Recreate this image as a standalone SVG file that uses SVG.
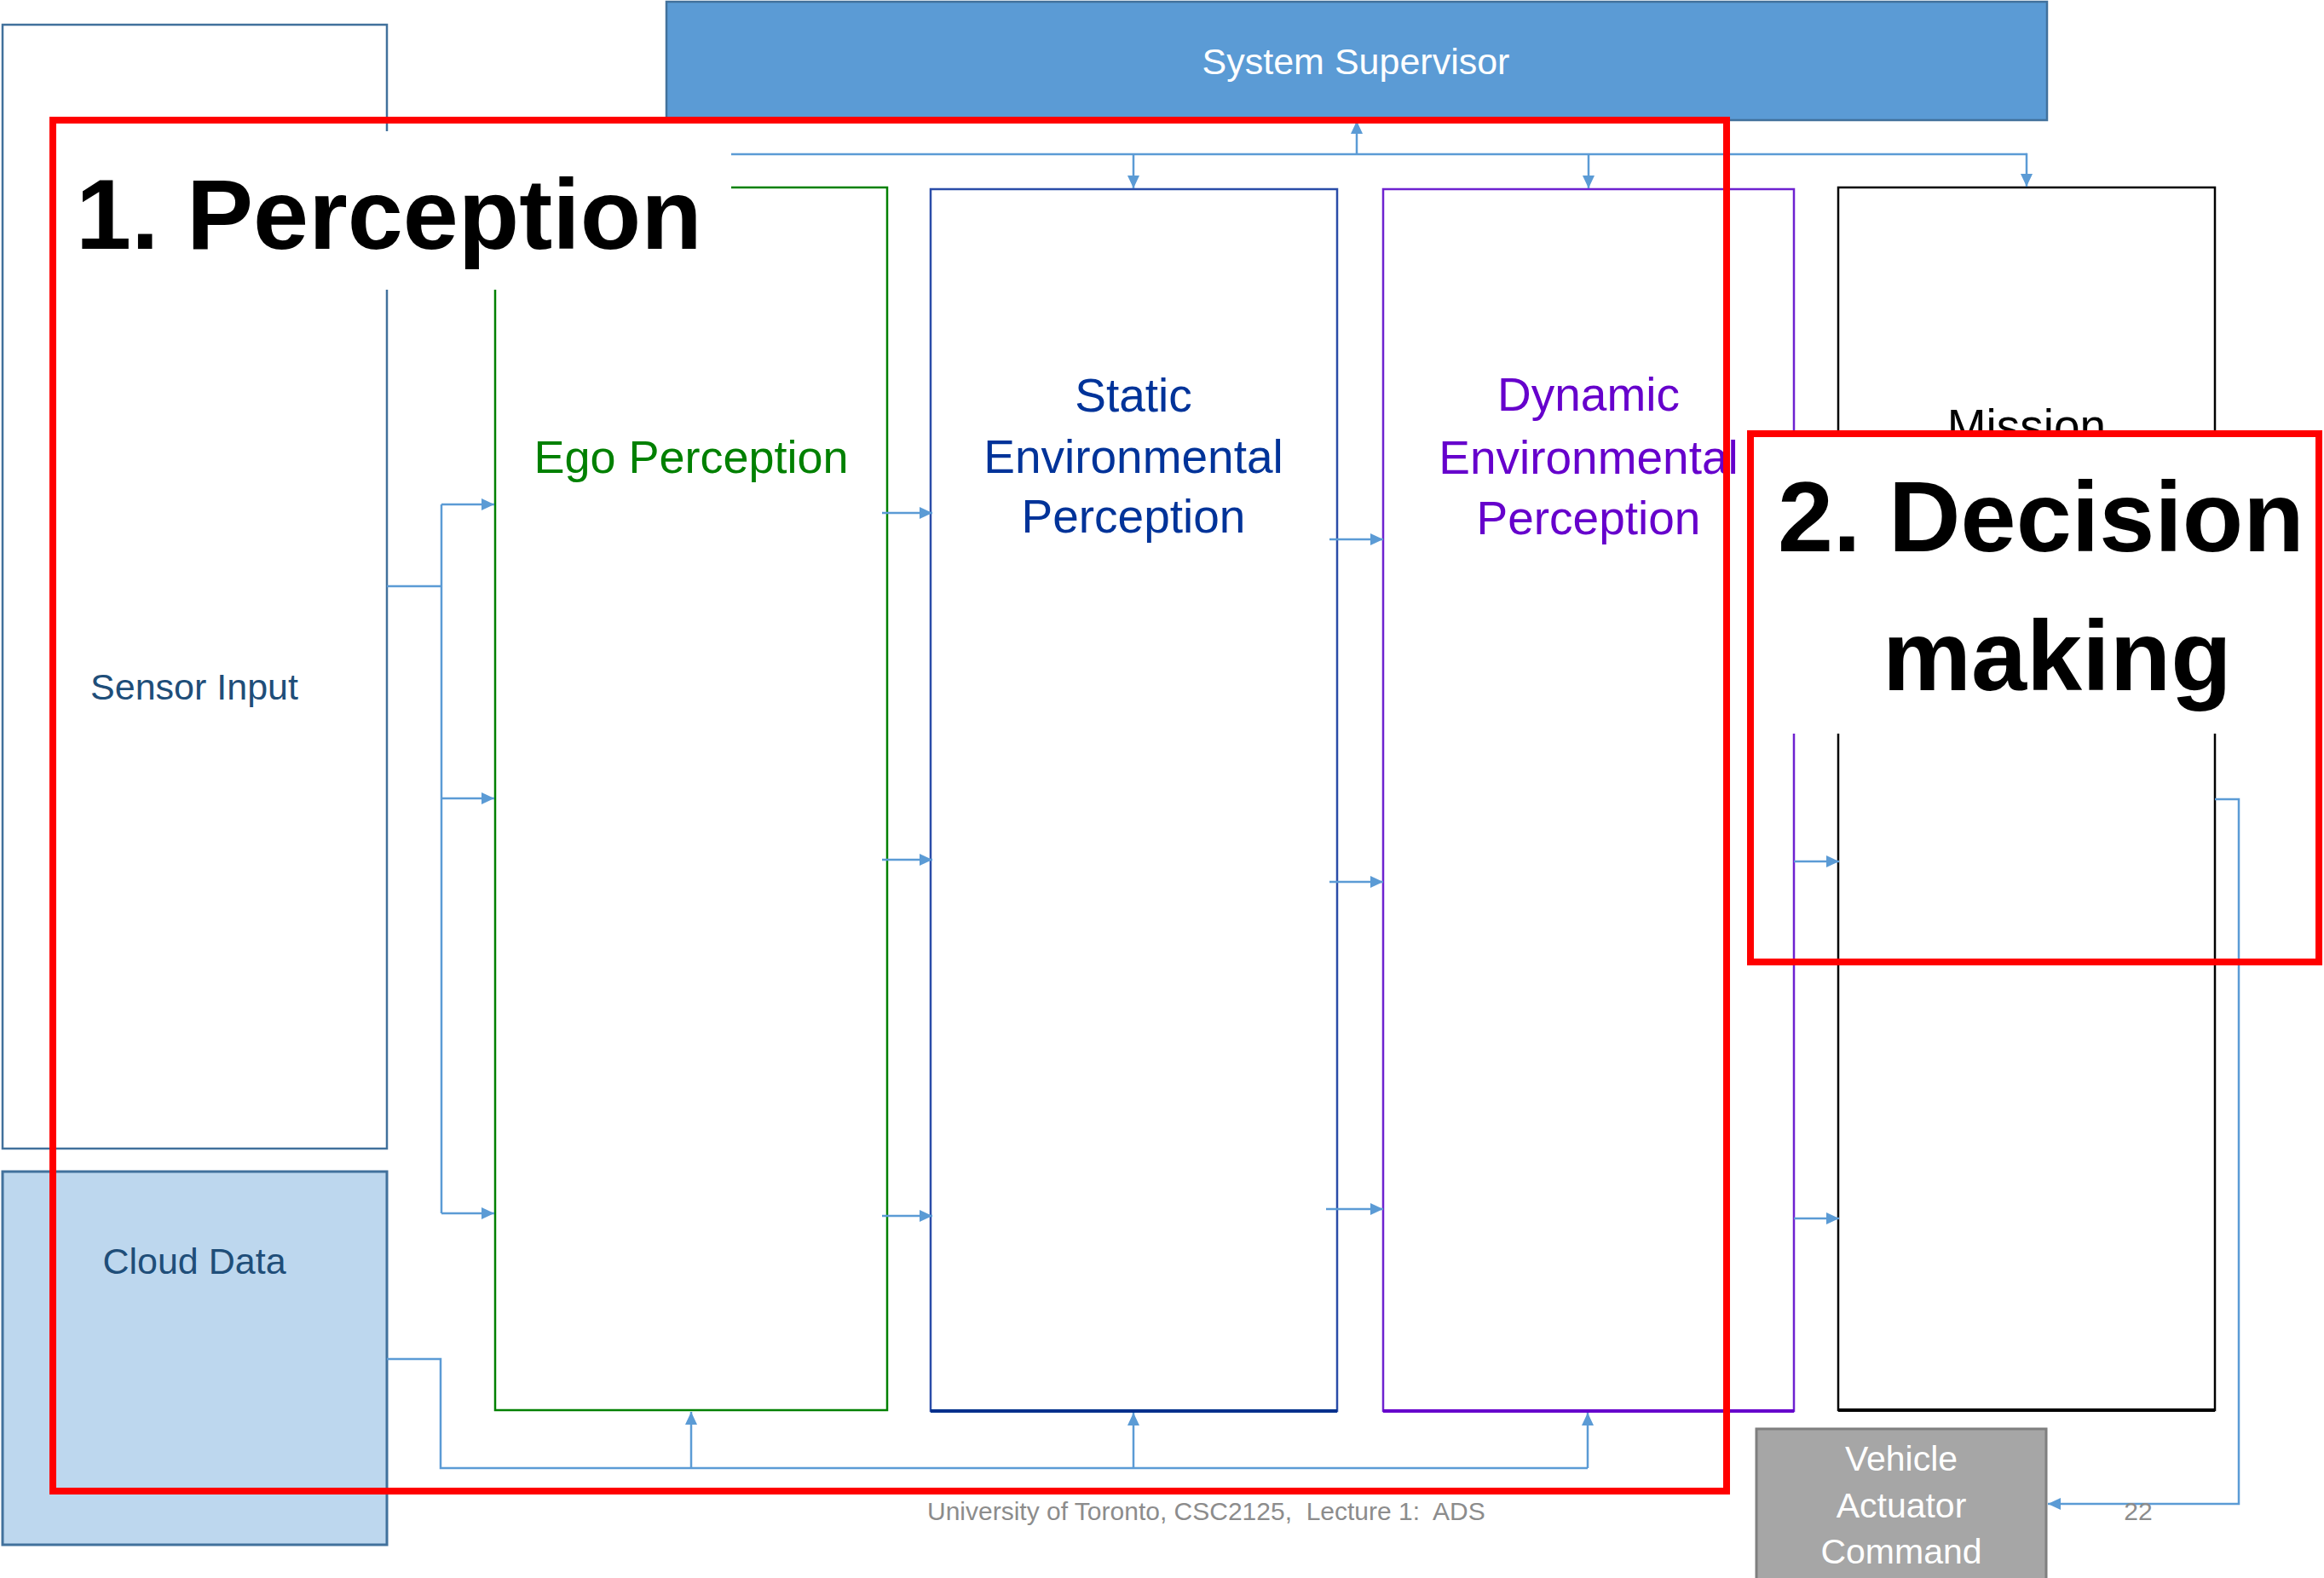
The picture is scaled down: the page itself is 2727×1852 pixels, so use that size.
<svg xmlns="http://www.w3.org/2000/svg" width="2727" height="1852" viewBox="0 0 2727 1852">
<style>
.lbl{font-family:"Liberation Sans",Arial,sans-serif;}
.big{font-family:"Liberation Sans",Arial,sans-serif;font-weight:bold;font-size:117px;fill:#000;}
.con{fill:none;stroke:#5B9BD5;stroke-width:2.5;}
.red{fill:none;stroke:#FF0000;stroke-width:8;}
</style>
<defs>
<marker id="ah" viewBox="0 0 15 14" refX="15" refY="7" markerWidth="15" markerHeight="14" markerUnits="userSpaceOnUse" orient="auto">
<path d="M0,0 L15,7 L0,14 z" fill="#5B9BD5"/>
</marker>
</defs>
<rect width="2727" height="1852" fill="#fff"/>

<g id="sensor-input">
<rect x="3" y="29" width="451" height="1319" fill="#fff" stroke="#41719C" stroke-width="2.5"/>
<text class="lbl" x="228" y="821" font-size="43" fill="#1F4E79" text-anchor="middle">Sensor Input</text>
</g>
<g id="cloud-data">
<rect x="3" y="1375" width="451" height="438" fill="#BDD7EE" stroke="#41719C" stroke-width="3"/>
<text class="lbl" x="228" y="1495" font-size="43" fill="#1F4E79" text-anchor="middle">Cloud Data</text>
</g>
<g id="system-supervisor">
<rect x="782" y="2" width="1620" height="139" fill="#5B9BD5" stroke="#41719C" stroke-width="2.5"/>
<text class="lbl" x="1591" y="87" font-size="43" fill="#fff" text-anchor="middle">System Supervisor</text>
</g>
<g id="ego-perception">
<rect x="581" y="220" width="460" height="1435" fill="#fff" stroke="#008000" stroke-width="2.5"/>
<text class="lbl" x="811" y="555" font-size="54" fill="#008000" text-anchor="middle">Ego Perception</text>
</g>
<g id="static-perception">
<rect x="1092" y="222" width="477" height="1434" fill="#fff" stroke="#2A4CA8" stroke-width="2.5"/>
<line x1="1092" y1="1656" x2="1569" y2="1656" stroke="#00308C" stroke-width="4"/>
<text class="lbl" font-size="55" fill="#003399" text-anchor="middle"><tspan x="1330" y="483">Static</tspan><tspan x="1330" y="555">Environmental</tspan><tspan x="1330" y="625">Perception</tspan></text>
</g>
<g id="dynamic-perception">
<rect x="1623" y="222" width="482" height="1434" fill="#fff" stroke="#6E22D0" stroke-width="2.5"/>
<line x1="1623" y1="1656" x2="2105" y2="1656" stroke="#6600CC" stroke-width="4"/>
<text class="lbl" font-size="55" fill="#6600CC" text-anchor="middle"><tspan x="1864" y="482">Dynamic</tspan><tspan x="1864" y="556">Environmental</tspan><tspan x="1864" y="627">Perception</tspan></text>
</g>
<g id="mission">
<rect x="2157" y="220" width="442" height="1435" fill="#fff" stroke="#000" stroke-width="2.5"/>
<line x1="2157" y1="1655" x2="2599" y2="1655" stroke="#000" stroke-width="4"/>
<text class="lbl" x="2378" y="519" font-size="55" fill="#000" text-anchor="middle">Mission</text>
</g>
<g id="vehicle-actuator-command">
<rect x="2061" y="1677" width="340" height="190" fill="#A6A6A6" stroke="#7F7F7F" stroke-width="3"/>
<text class="lbl" font-size="41" fill="#fff" text-anchor="middle"><tspan x="2231" y="1726">Vehicle</tspan><tspan x="2231" y="1781">Actuator</tspan><tspan x="2231" y="1835">Command</tspan></text>
</g>

<g id="connectors">
<!-- supervisor bus -->
<line class="con" x1="858" y1="181" x2="2378" y2="181"/>
<line class="con" x1="1592" y1="181" x2="1592" y2="142" marker-end="url(#ah)"/>
<line class="con" x1="1330" y1="181" x2="1330" y2="221" marker-end="url(#ah)"/>
<line class="con" x1="1864" y1="181" x2="1864" y2="221" marker-end="url(#ah)"/>
<polyline class="con" points="2377,181 2378,181 2378,219" marker-end="url(#ah)"/>
<!-- sensor input to ego -->
<polyline class="con" points="454,688 518,688"/>
<line class="con" x1="518" y1="592" x2="518" y2="1424"/>
<line class="con" x1="518" y1="592" x2="580" y2="592" marker-end="url(#ah)"/>
<line class="con" x1="518" y1="937" x2="580" y2="937" marker-end="url(#ah)"/>
<line class="con" x1="518" y1="1424" x2="580" y2="1424" marker-end="url(#ah)"/>
<!-- ego to static -->
<line class="con" x1="1035" y1="602" x2="1094" y2="602" marker-end="url(#ah)"/>
<line class="con" x1="1035" y1="1009" x2="1094" y2="1009" marker-end="url(#ah)"/>
<line class="con" x1="1035" y1="1427" x2="1094" y2="1427" marker-end="url(#ah)"/>
<!-- static to dynamic -->
<line class="con" x1="1560" y1="633" x2="1623" y2="633" marker-end="url(#ah)"/>
<line class="con" x1="1560" y1="1035" x2="1623" y2="1035" marker-end="url(#ah)"/>
<line class="con" x1="1556" y1="1419" x2="1623" y2="1419" marker-end="url(#ah)"/>
<!-- dynamic to mission -->
<line class="con" x1="2105" y1="633" x2="2158" y2="633" marker-end="url(#ah)"/>
<line class="con" x1="2105" y1="1011" x2="2158" y2="1011" marker-end="url(#ah)"/>
<line class="con" x1="2105" y1="1430" x2="2158" y2="1430" marker-end="url(#ah)"/>
<!-- cloud data bus -->
<polyline class="con" points="454,1595 517,1595 517,1723 1330,1723" stroke-width="4"/>
<line class="con" x1="1330" y1="1723" x2="1863" y2="1723"/>
<line class="con" x1="811" y1="1723" x2="811" y2="1657" marker-end="url(#ah)"/>
<line class="con" x1="1330" y1="1723" x2="1330" y2="1658" marker-end="url(#ah)"/>
<line class="con" x1="1863" y1="1723" x2="1863" y2="1658" marker-end="url(#ah)"/>
<!-- mission to actuator -->
<polyline class="con" points="2599,938 2627,938 2627,1765 2403,1765" marker-end="url(#ah)"/>
</g>

<g id="footer">
<text class="lbl" x="1088" y="1784" font-size="30" fill="#8C8C8C" xml:space="preserve">University of Toronto, CSC2125,  Lecture 1:  ADS</text>
<text class="lbl" x="2509" y="1784" font-size="30" fill="#8C8C8C" text-anchor="middle">22</text>
</g>

<g id="perception-label">
<rect x="66" y="154" width="792" height="186" fill="#fff"/>
<text class="big" x="89" y="292">1. Perception</text>
</g>
<g id="decision-label">
<rect x="2058" y="513" width="660" height="348" fill="#fff"/>
<text class="big" x="2086" y="647">2. Decision</text>
<text class="big" x="2209" y="810">making</text>
</g>
<g id="highlight-boxes">
<rect class="red" x="62" y="141" width="1964" height="1609"/>
<rect class="red" x="2054" y="509" width="667" height="620"/>
</g>
</svg>
